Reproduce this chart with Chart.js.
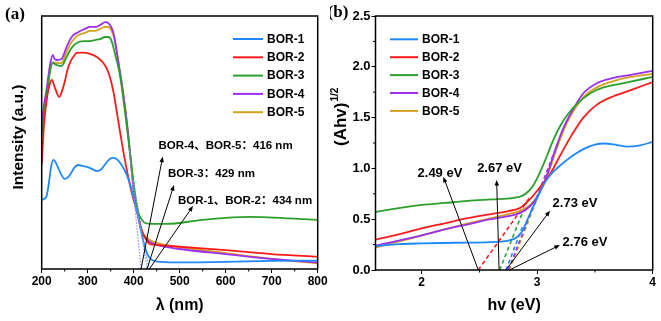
<!DOCTYPE html>
<html>
<head>
<meta charset="utf-8">
<script src="https://cdn.jsdelivr.net/npm/chart.js@4.4.1/dist/chart.umd.min.js"></script>
<style>
    html, body { margin: 0; padding: 0; background: #fff; }
    #wrap { position: relative; width: 661px; height: 321px; overflow: hidden; }
    #wrap canvas { position: absolute; top: 0; }
    #chartA { left: 0; }
    #chartB { left: 330px; }
</style>
</head>
<body>
<div id="wrap">
    <canvas id="chartA" width="330" height="321"></canvas>
    <canvas id="chartB" width="331" height="321"></canvas>
</div>
<script>
// 系列名
const seriesNames = ['BOR-1', 'BOR-2', 'BOR-3', 'BOR-4', 'BOR-5'];

// (a) 吸収スペクトル (任意単位)
const bor1Wave = [200, 205, 210, 215, 220, 225, 230, 235, 242, 250, 258, 265, 272, 280, 290, 300, 310, 320, 330, 340, 348, 356, 365, 375, 385, 395, 403, 410, 418, 425, 432, 440, 460, 500, 600, 700, 800];
const bor1Abs = [27.3, 27.7, 28.5, 33.2, 39.9, 43.1, 42.3, 40.3, 37.5, 35.6, 36.4, 38.3, 40.3, 41.1, 40.7, 40.3, 39.5, 38.7, 39.5, 41.9, 43.5, 43.9, 43.1, 40.7, 37.2, 31.6, 25.7, 20.6, 13.4, 8.3, 5.1, 3.6, 2.8, 2.6, 2.8, 3.2, 3.3];

const bor2Wave = [200, 205, 211, 217, 222, 229, 238, 245, 251, 256, 262, 270, 276, 290, 305, 320, 334, 342, 348, 356, 366, 377, 388, 398, 405, 411, 417, 425, 435, 450, 500, 600, 700, 800];
const bor2Abs = [41.1, 56.9, 66.8, 72.7, 74.7, 71.5, 68.0, 70.8, 74.7, 78.7, 81.8, 84.2, 85.4, 85.5, 85.0, 83.8, 81.4, 79.0, 76.0, 70.0, 59.0, 47.0, 36.5, 28.5, 24.0, 20.0, 15.4, 12.3, 9.9, 9.5, 8.8, 7.5, 5.9, 4.9];

const bor3Wave = [200, 205, 211, 218, 224, 233, 243, 254, 265, 280, 294, 305, 316, 327, 338, 345, 352, 360, 370, 380, 390, 399, 406, 412, 418, 425, 440, 470, 550, 650, 800];
const bor3Abs = [53.0, 60.9, 68.8, 77.9, 81.4, 80.6, 80.2, 83.8, 87.4, 89.7, 90.1, 90.1, 90.5, 90.9, 91.7, 91.7, 90.1, 84.6, 76.7, 63.6, 49.0, 35.2, 26.1, 21.3, 19.4, 18.2, 17.8, 17.8, 19.4, 20.6, 19.4];

const bor4Wave = [200, 205, 211, 218, 224, 228, 233, 243, 254, 265, 280, 294, 305, 316, 327, 338, 345, 352, 357, 366, 377, 387, 394, 400, 406, 412, 418, 425, 435, 450, 500, 600, 700, 800];
const bor4Abs = [56.9, 64.8, 71.5, 80.6, 84.6, 83.0, 82.6, 83.0, 87.7, 91.7, 93.7, 94.9, 95.7, 95.7, 96.4, 97.6, 97.2, 95.3, 92.5, 82.6, 69.6, 55.0, 42.0, 31.0, 25.0, 18.6, 14.2, 12.3, 10.7, 9.5, 7.9, 5.9, 4.0, 2.6];

const bor5Wave = [200, 205, 211, 218, 224, 228, 233, 243, 254, 265, 280, 294, 305, 316, 327, 338, 345, 352, 357, 366, 377, 387, 394, 400, 406, 412, 418, 425, 435, 450, 500, 600, 700, 800];
const bor5Abs = [53.8, 62.1, 69.6, 78.7, 81.8, 81.6, 81.4, 81.4, 85.8, 89.7, 92.5, 93.3, 94.1, 94.1, 94.9, 95.7, 95.7, 94.1, 91.7, 82.6, 69.6, 55.0, 42.5, 31.5, 25.8, 19.8, 15.0, 13.0, 11.5, 10.3, 8.7, 6.3, 4.0, 2.2];

// (a) 吸収端の接線 (点線)
const tangentAWave = [[390, 416], [399, 429], [403, 434]];
const tangentAAbs = [[48, 0], [35, 0], [25.7, 0]];

// (a) 吸収端
const edgeALabels = ['BOR-4、BOR-5：416 nm', 'BOR-3：429 nm', 'BOR-1、BOR-2：434 nm'];
const edgeAValues = [416, 429, 434];

// (b) Tauc プロット
const bor1Ev = [1.6, 1.8, 2.0, 2.3, 2.6, 2.75, 2.82, 2.87, 2.91, 2.96, 3.0, 3.05, 3.11, 3.2, 3.3, 3.4, 3.5, 3.58, 3.69, 3.78, 3.88, 4.0];
const bor1Tauc = [0.235, 0.255, 0.262, 0.268, 0.275, 0.29, 0.32, 0.38, 0.48, 0.61, 0.71, 0.83, 0.93, 1.03, 1.12, 1.19, 1.235, 1.245, 1.23, 1.215, 1.225, 1.26];

const bor2Ev = [1.6, 1.8, 2.0, 2.2, 2.4, 2.6, 2.75, 2.85, 2.94, 3.02, 3.11, 3.2, 3.3, 3.4, 3.52, 3.66, 3.81, 4.0];
const bor2Tauc = [0.30, 0.35, 0.41, 0.46, 0.51, 0.55, 0.58, 0.61, 0.70, 0.81, 0.94, 1.13, 1.33, 1.50, 1.63, 1.71, 1.77, 1.85];

const bor3Ev = [1.6, 1.8, 2.0, 2.2, 2.4, 2.6, 2.8, 2.87, 2.92, 2.97, 3.02, 3.08, 3.14, 3.2, 3.27, 3.34, 3.46, 3.58, 3.75, 4.0];
const bor3Tauc = [0.57, 0.61, 0.64, 0.66, 0.68, 0.695, 0.71, 0.73, 0.77, 0.84, 0.95, 1.11, 1.28, 1.42, 1.54, 1.63, 1.74, 1.80, 1.84, 1.90];

const bor4Ev = [1.6, 1.8, 2.0, 2.2, 2.4, 2.6, 2.75, 2.85, 2.94, 3.0, 3.08, 3.155, 3.22, 3.29, 3.4, 3.52, 3.66, 3.81, 4.0];
const bor4Tauc = [0.24, 0.29, 0.34, 0.40, 0.45, 0.50, 0.53, 0.56, 0.63, 0.72, 0.92, 1.18, 1.38, 1.54, 1.74, 1.84, 1.89, 1.92, 1.96];

const bor5Ev = [1.6, 1.8, 2.0, 2.2, 2.4, 2.6, 2.75, 2.85, 2.94, 3.0, 3.08, 3.155, 3.22, 3.29, 3.4, 3.52, 3.66, 3.81, 4.0];
const bor5Tauc = [0.22, 0.28, 0.34, 0.40, 0.46, 0.51, 0.55, 0.58, 0.64, 0.72, 0.90, 1.15, 1.35, 1.52, 1.70, 1.80, 1.86, 1.90, 1.93];

// (b) 接線 (破線) BOR-1..BOR-5 の順
const tangentBEv = [[2.73, 2.88], [2.49, 2.94], [2.675, 2.92], [2.75, 3.155], [2.76, 3.05]];
const tangentBTauc = [[0, 0.45], [0, 0.72], [0, 0.70], [0, 1.18], [0, 0.85]];

// (b) バンドギャップ
const gapBLabels = ['2.49 eV', '2.67 eV', '2.73 eV', '2.76 eV'];
const gapBValues = [2.49, 2.67, 2.73, 2.76];

// 描画スタイル
const seriesColors = ['#1e88ff', '#ff1a1a', '#2ca02c', '#9d2ff0', '#d4a020'];
const tangentAColors = ['#9a8be0', '#7f9ae6', '#6f95f0'];
const fontFamily = 'Arial, "Liberation Sans", "Noto Sans CJK SC", sans-serif';

Chart.defaults.font.family = fontFamily;
Chart.defaults.font.weight = 'bold';
Chart.defaults.color = '#000';

/**
 * x, y の配列を点の配列に変換します。
 */
const toPoints = (xs, ys) => xs.map((x, i) => ({ x: x, y: ys[i] }));

/**
 * 矢印を描きます。
 */
const drawArrow = (ctx, x1, y1, x2, y2) => {
    const angle = Math.atan2(y2 - y1, x2 - x1);
    const len = 6;
    ctx.beginPath();
    ctx.moveTo(x1, y1);
    ctx.lineTo(x2 - Math.cos(angle) * 4, y2 - Math.sin(angle) * 4);
    ctx.stroke();
    ctx.beginPath();
    ctx.moveTo(x2, y2);
    ctx.lineTo(x2 - len * Math.cos(angle - 0.38), y2 - len * Math.sin(angle - 0.38));
    ctx.lineTo(x2 - len * Math.cos(angle + 0.38), y2 - len * Math.sin(angle + 0.38));
    ctx.closePath();
    ctx.fill();
};

/**
 * 枠、補助目盛、矢印、注記、凡例、パネル名を描くプラグイン
 */
const decorPlugin = {
    id: 'decor',
    afterDatasetsDraw: (chart, args, opts) => {
        const ctx = chart.ctx;
        const area = chart.chartArea;
        const xs = chart.scales.x;
        const ys = chart.scales.y;

        ctx.save();
        ctx.strokeStyle = '#000';
        ctx.fillStyle = '#000';

        // 矢印
        ctx.lineWidth = 1;
        opts.arrows.forEach((a) => {
            drawArrow(ctx, xs.getPixelForValue(a.from[0]), ys.getPixelForValue(a.from[1]),
                xs.getPixelForValue(a.to[0]), ys.getPixelForValue(a.to[1]));
        });

        // 注記
        ctx.font = opts.noteFont;
        ctx.textAlign = 'center';
        ctx.textBaseline = 'middle';
        opts.notes.forEach((n) => {
            ctx.fillText(n.text, xs.getPixelForValue(n.x), ys.getPixelForValue(n.y));
        });

        // 枠
        ctx.lineWidth = 1.5;
        ctx.strokeRect(area.left, area.top, area.right - area.left, area.bottom - area.top);

        // 補助目盛
        ctx.lineWidth = 1;
        opts.minorX.forEach((v) => {
            const px = xs.getPixelForValue(v);
            ctx.beginPath();
            ctx.moveTo(px, area.bottom);
            ctx.lineTo(px, area.bottom + 2.5);
            ctx.stroke();
        });
        opts.minorY.forEach((v) => {
            const py = ys.getPixelForValue(v);
            ctx.beginPath();
            ctx.moveTo(area.left - 2.5, py);
            ctx.lineTo(area.left, py);
            ctx.stroke();
        });

        // 凡例
        const lg = opts.legend;
        ctx.font = 'bold 12px ' + fontFamily;
        ctx.textAlign = 'left';
        chart.data.datasets.filter((ds) => ds.inLegend).forEach((ds, i) => {
            const y = lg.y + i * lg.gap;
            ctx.strokeStyle = ds.borderColor;
            ctx.lineWidth = 2;
            ctx.beginPath();
            ctx.moveTo(lg.x, y);
            ctx.lineTo(lg.x + lg.len, y);
            ctx.stroke();
            ctx.fillStyle = '#000';
            ctx.fillText(ds.label, lg.x + lg.len + 4, y + 0.5);
        });

        // パネル名
        ctx.font = 'bold 17px "Liberation Serif", "Times New Roman", serif';
        ctx.textAlign = 'center';
        ctx.fillText(opts.panel.text, opts.panel.x, opts.panel.y);

        // y 軸タイトル
        opts.drawYTitle(ctx);
        ctx.restore();
    },
};

/**
 * (a) の吸収スペクトルを生成します。
 */
const createSpectrumChart = () => {
    const waves = [bor1Wave, bor2Wave, bor3Wave, bor4Wave, bor5Wave];
    const abs = [bor1Abs, bor2Abs, bor3Abs, bor4Abs, bor5Abs];

    const datasets = [];
    tangentAWave.forEach((w, i) => {
        datasets.push({
            data: toPoints(w, tangentAAbs[i]),
            borderColor: tangentAColors[i],
            borderWidth: 1.2,
            borderDash: [1.5, 1.5],
        });
    });
    seriesNames.forEach((name, i) => {
        datasets.push({
            label: name,
            inLegend: true,
            data: toPoints(waves[i], abs[i]),
            borderColor: seriesColors[i],
            borderWidth: 1.8,
            cubicInterpolationMode: 'monotone',
        });
    });

    const arrowTips = [[463, 44.4], [487.6, 33.2], [529, 24.9]];
    const noteCenters = [[599.6, 48.6], [569, 37.5], [642, 26.9]];

    const config = {
        type: 'line',
        data: { datasets: datasets },
        options: {
            responsive: false,
            animation: false,
            layout: { padding: { left: 41.7, right: 12.3, top: 16, bottom: 0 } },
            elements: { point: { radius: 0 } },
            scales: {
                x: {
                    type: 'linear',
                    min: 200,
                    max: 800,
                    ticks: { stepSize: 100, padding: 1, font: { size: 12, weight: 'bold' } },
                    grid: { drawOnChartArea: false, tickLength: 4, color: '#000', lineWidth: 1 },
                    border: { display: false },
                    title: { display: true, text: 'λ (nm)', font: { size: 16, weight: 'bold' }, padding: { top: 0, bottom: 6 } },
                    afterFit: (scale) => { scale.height = 52; },
                },
                y: { display: false, min: 0, max: 100 },
            },
            plugins: {
                legend: { display: false },
                tooltip: { enabled: false },
                decor: {
                    arrows: edgeAValues.map((v, i) => ({ from: [v, 0], to: arrowTips[i] })),
                    notes: edgeALabels.map((t, i) => ({ text: t, x: noteCenters[i][0], y: noteCenters[i][1] })),
                    noteFont: 'bold 11.5px ' + fontFamily,
                    minorX: [250, 350, 450, 550, 650, 750],
                    minorY: [],
                    legend: { x: 233, y: 39, gap: 18.3, len: 30 },
                    panel: { text: '(a)', x: 15, y: 15 },
                    drawYTitle: (ctx) => {
                        ctx.save();
                        ctx.translate(19, 137);
                        ctx.rotate(-Math.PI / 2);
                        ctx.font = 'bold 15.5px ' + fontFamily;
                        ctx.textAlign = 'center';
                        ctx.textBaseline = 'middle';
                        ctx.fillText('Intensity (a.u.)', 0, 0);
                        ctx.restore();
                    },
                },
            },
        },
        plugins: [decorPlugin],
    };

    return new Chart(document.getElementById('chartA'), config);
};

/**
 * (b) の Tauc プロットを生成します。
 */
const createTaucChart = () => {
    const evs = [bor1Ev, bor2Ev, bor3Ev, bor4Ev, bor5Ev];
    const taucs = [bor1Tauc, bor2Tauc, bor3Tauc, bor4Tauc, bor5Tauc];

    const datasets = [];
    seriesNames.forEach((name, i) => {
        datasets.push({
            label: name,
            inLegend: true,
            data: toPoints(evs[i], taucs[i]),
            borderColor: seriesColors[i],
            borderWidth: 1.8,
            cubicInterpolationMode: 'monotone',
        });
    });
    tangentBEv.forEach((e, i) => {
        datasets.push({
            data: toPoints(e, tangentBTauc[i]),
            borderColor: seriesColors[i],
            borderWidth: 1.6,
            borderDash: [4, 3],
        });
    });

    const arrowTips = [[2.187, 0.918], [2.649, 0.886], [3.111, 0.584], [3.197, 0.246]];
    const noteCenters = [[2.158, 0.955], [2.674, 1.004], [3.327, 0.66], [3.414, 0.276]];

    const config = {
        type: 'line',
        data: { datasets: datasets },
        options: {
            responsive: false,
            animation: false,
            layout: { padding: { left: 0, right: 8.3, top: 16, bottom: 0 } },
            elements: { point: { radius: 0 } },
            scales: {
                x: {
                    type: 'linear',
                    min: 1.6,
                    max: 4,
                    afterBuildTicks: (scale) => { scale.ticks = [2, 3, 4].map((v) => ({ value: v })); },
                    ticks: { padding: 1, font: { size: 12, weight: 'bold' } },
                    grid: { drawOnChartArea: false, tickLength: 4, color: '#000', lineWidth: 1 },
                    border: { display: false },
                    title: { display: true, text: 'hv (eV)', font: { size: 16, weight: 'bold' }, padding: { top: 0, bottom: 6 } },
                    afterFit: (scale) => { scale.height = 51; },
                },
                y: {
                    min: 0,
                    max: 2.5,
                    ticks: { stepSize: 0.5, padding: 1, font: { size: 13, weight: 'bold' }, callback: (v) => v.toFixed(1) },
                    grid: { drawOnChartArea: false, tickLength: 4, color: '#000', lineWidth: 1 },
                    border: { display: false },
                    afterFit: (scale) => { scale.width = 45.5; },
                },
            },
            plugins: {
                legend: { display: false },
                tooltip: { enabled: false },
                decor: {
                    arrows: gapBValues.map((v, i) => ({ from: [v, 0], to: arrowTips[i] })),
                    notes: gapBLabels.map((t, i) => ({ text: t, x: noteCenters[i][0], y: noteCenters[i][1] })),
                    noteFont: 'bold 13px ' + fontFamily,
                    minorX: [2.5, 3.5],
                    minorY: [0.25, 0.75, 1.25, 1.75, 2.25],
                    legend: { x: 60, y: 39.3, gap: 17.9, len: 28 },
                    panel: { text: '(b)', x: 8, y: 13 },
                    drawYTitle: (ctx) => {
                        ctx.save();
                        ctx.translate(11, 146);
                        ctx.rotate(-Math.PI / 2);
                        ctx.textBaseline = 'middle';
                        ctx.textAlign = 'left';
                        ctx.font = 'bold 17px ' + fontFamily;
                        ctx.fillText('(Ahv)', 0, 0);
                        const w = ctx.measureText('(Ahv)').width;
                        ctx.font = 'bold 10px ' + fontFamily;
                        ctx.fillText('1/2', w + 1, -6);
                        ctx.restore();
                    },
                },
            },
        },
        plugins: [decorPlugin],
    };

    return new Chart(document.getElementById('chartB'), config);
};

const main = () => {
    createSpectrumChart();
    createTaucChart();
};

main();
</script>
</body>
</html>
